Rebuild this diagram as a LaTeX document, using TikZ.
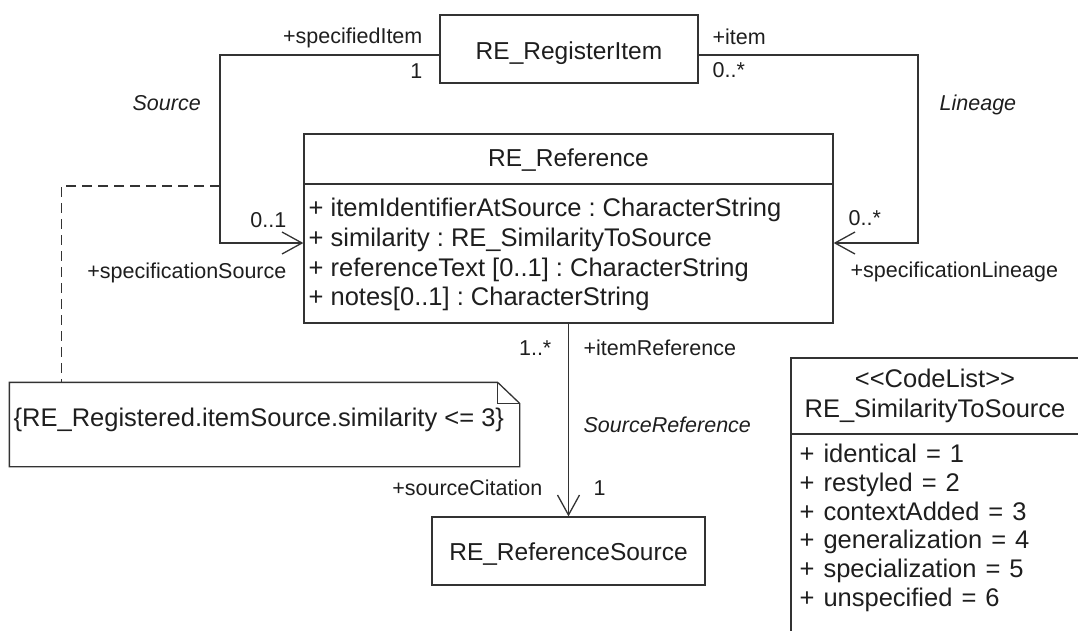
\documentclass[tikz,border=0pt]{standalone}
\usepackage{fontspec}
\setmainfont{Liberation Sans}
\usetikzlibrary{arrows.meta}
\definecolor{ln}{HTML}{333333}
\definecolor{tx}{HTML}{1E1E1E}
\newcommand\mywidesp{\spaceskip=9pt plus 2pt\relax}
\begin{document}
\frenchspacing
\begin{tikzpicture}[x=1pt,y=-1pt,
  line width=1.3pt,
  every node/.style={text=tx, inner sep=0pt},
  cls/.style={draw=ln, line width=1.3pt, font=\fontsize{24.5}{29}\selectfont},
  lbl/.style={font=\fontsize{21.5}{26}\selectfont},
  ital/.style={font=\fontsize{21.5}{26}\selectfont\itshape},
  attr/.style={font=\fontsize{25.5}{29}\selectfont, anchor=base west},
  lit/.style={font=\fontsize{25.5}{29}\selectfont\mywidesp, anchor=base west},
  assoc/.style={draw=ln, -{Straight Barb[length=20pt,width=22pt,line width=1.3pt]}},
  plain/.style={draw=ln},
  dep/.style={draw=ln, dash pattern=on 10pt off 6pt}]
\useasboundingbox (0,0) rectangle (1078,630);
\clip (0,0) rectangle (1078,630);

% classes
\node[cls, minimum width=258pt, minimum height=68pt] (item) at (569,49) {};
\node[cls, draw=none, anchor=base] (itemt) at (569,59) {RE\_RegisterItem};

\node[cls, minimum width=529pt, minimum height=189pt] (ref) at (568.5,228.5) {};
\node[cls, draw=none, anchor=base] (reft) at (568.5,166) {RE\_Reference};
\draw[plain] (ref.west |- 0,184) -- (ref.east |- 0,184);
\node[attr] (a1) at (308,216) {+ itemIdentifierAtSource : CharacterString};
\node[attr] (a2) at (308,246) {+ similarity : RE\_SimilarityToSource};
\node[attr] (a3) at (308,276) {+ referenceText [0..1] : CharacterString};
\node[attr] (a4) at (308,305) {+ notes[0..1] : CharacterString};

\node[cls, minimum width=273pt, minimum height=68pt] (rsrc) at (568.5,551) {};
\node[cls, draw=none, anchor=base] (rsrct) at (568.5,560) {RE\_ReferenceSource};

% code list (runs past the picture's edge)
\node[cls, minimum width=290pt, minimum height=300pt] (cl) at (936,508) {};
\draw[plain] (cl.west |- 0,434) -- (cl.east |- 0,434);
\node[cls, draw=none, anchor=base, font=\fontsize{25.5}{29}\selectfont] (clt1) at (935,387) {<{}<CodeList>{}>};
\node[cls, draw=none, anchor=base, font=\fontsize{25.5}{29}\selectfont] (clt2) at (935,417) {RE\_SimilarityToSource};
\node[lit] (l1) at (799,462) {+ identical = 1};
\node[lit] (l2) at (799,491) {+ restyled = 2};
\node[lit] (l3) at (799,520) {+ contextAdded = 3};
\node[lit] (l4) at (799,548) {+ generalization = 4};
\node[lit] (l5) at (799,577) {+ specialization = 5};
\node[lit] (l6) at (799,606) {+ unspecified = 6};

% note
\node[minimum width=509pt, minimum height=83pt] (note) at (264.5,424.5) {};
\draw[plain] (note.north west) -- ([xshift=-22pt]note.north east)
  -- ([yshift=-21pt]note.north east) -- (note.south east) -- (note.south west) -- cycle;
\draw[plain] ([xshift=-22pt]note.north east) |- ([yshift=-21pt]note.north east);
\node[attr] (notet) at (13,426) {\{RE\_Registered.itemSource.similarity <= 3\}};

% associations
\coordinate (srcc) at (220,243);
\coordinate (linc) at (918,243);
\coordinate (dj) at (220,186);
\draw[assoc] ([yshift=-6pt]item.west) -| (srcc) -- (srcc -| ref.west);
\draw[assoc] ([yshift=-6pt]item.east) -| (linc) -- (linc -| ref.east);
\draw[assoc] (ref.south) -- (rsrc.north);
\draw[dep] (dj) -| ([xshift=52pt]note.north west);

% labels
\node[lbl, anchor=base east] (s1) at (423,43) {+specifiedItem};
\node[lbl, anchor=base east] (s2) at (423,78) {1};
\node[ital, anchor=base west] (s3) at (132,110) {Source};
\node[lbl, anchor=base east] (s4) at (287,227) {0..1};
\node[lbl, anchor=base east] (s5) at (287,278) {+specificationSource};

\node[lbl, anchor=base west] (r1) at (712,44) {+item};
\node[lbl, anchor=base west] (r2) at (712,77) {0..*};
\node[ital, anchor=base west] (r3) at (939,110) {Lineage};
\node[lbl, anchor=base west] (r4) at (848,225) {0..*};
\node[lbl, anchor=base west] (r5) at (850,277) {+specificationLineage};

\node[lbl, anchor=base east] (d1) at (552,355) {1..*};
\node[lbl, anchor=base west] (d2) at (583,355) {+itemReference};
\node[ital, anchor=base west] (d3) at (583,432) {SourceReference};
\node[lbl, anchor=base east] (d4) at (543,495) {+sourceCitation};
\node[lbl, anchor=base west] (d5) at (593,495) {1};
\end{tikzpicture}
\end{document}
